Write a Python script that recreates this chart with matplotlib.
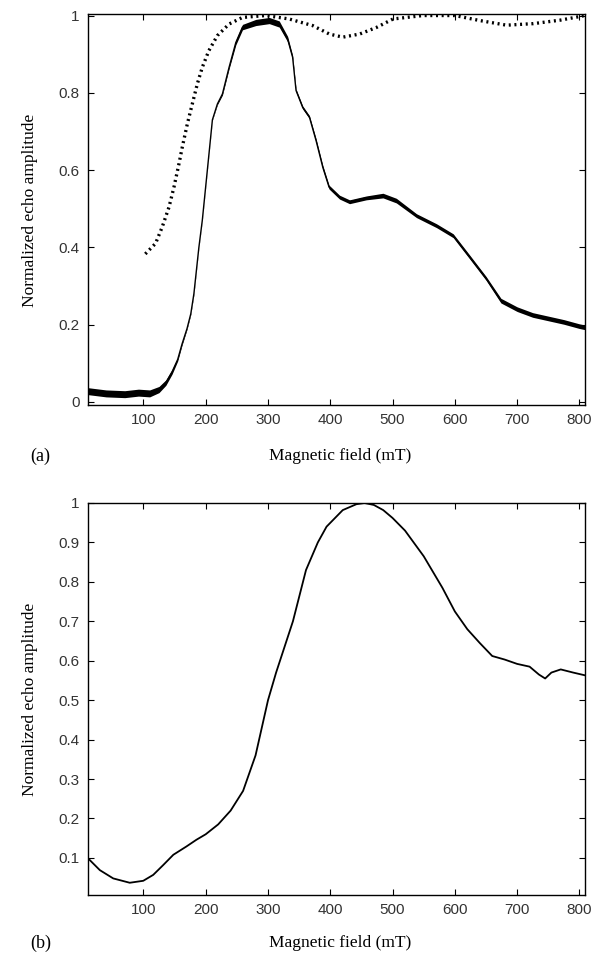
import numpy as np
import matplotlib
matplotlib.use("Agg")
import matplotlib.pyplot as plt

# panel (a): solid trace (noisy) and dotted trace
field_a = [10, 40, 70, 92, 110, 125, 136, 146, 155, 162, 170, 176, 181, 189, 194.5,
           202.6, 210.7, 218.7, 226.8, 237.5, 248.3, 259, 280.5, 302, 318, 331.5,
           339.5, 345, 355.7, 366.5, 377.2, 388, 398, 414.8, 430.9, 457.8, 484.6,
           506, 538.4, 570.6, 597.4, 624.3, 650, 674, 700, 725, 750, 775, 800, 809]
echo_a = [0.028, 0.022, 0.02, 0.024, 0.022, 0.032, 0.05, 0.078, 0.11, 0.15, 0.19, 0.228,
          0.28, 0.40, 0.47, 0.60, 0.73, 0.771, 0.797, 0.866, 0.93, 0.97, 0.982, 0.987,
          0.978, 0.939, 0.892, 0.806, 0.762, 0.737, 0.676, 0.607, 0.556, 0.53, 0.518,
          0.528, 0.534, 0.521, 0.482, 0.456, 0.43, 0.374, 0.32, 0.262, 0.24, 0.225,
          0.216, 0.207, 0.196, 0.193]
# half-width of the noise band around the solid trace
noise_a = [0.009, 0.009, 0.009, 0.009, 0.009, 0.008, 0.007, 0.006, 0.004, 0.003, 0.002,
           0.002, 0.002, 0.001, 0.001, 0.001, 0.001, 0.002, 0.003, 0.004, 0.006, 0.007,
           0.008, 0.008, 0.008, 0.007, 0.005, 0.004, 0.004, 0.004, 0.005, 0.005, 0.005,
           0.005, 0.005, 0.005, 0.006, 0.006, 0.005, 0.005, 0.005, 0.005, 0.005, 0.006,
           0.006, 0.006, 0.006, 0.006, 0.006, 0.006]

field_dot = [103, 119.4, 130, 141, 149, 157, 162.3, 170.4, 178.4, 186.5, 194.5, 205,
             218.7, 237.5, 259, 296.7, 334, 371.6, 398.6, 420, 447, 474, 500.7, 549,
             600, 640, 683, 726, 769, 796, 808]
echo_dot = [0.383, 0.41, 0.452, 0.504, 0.556, 0.616, 0.659, 0.719, 0.771, 0.823, 0.866,
            0.909, 0.948, 0.978, 0.995, 1.0, 0.991, 0.974, 0.952, 0.944, 0.952, 0.969,
            0.991, 1.0, 1.0, 0.987, 0.975, 0.979, 0.988, 0.996, 1.0]

# panel (b)
field_b = [11, 30, 51.5, 78, 99.7, 115.7, 131.8, 148, 169, 185, 200, 220, 240, 260, 280,
           300, 313, 340, 361, 380, 394, 420, 442, 455, 470, 485, 500, 520, 550, 580,
           600, 620, 640, 660, 680, 700, 720, 735, 745, 755, 770, 790, 809]
echo_b = [0.099, 0.069, 0.048, 0.037, 0.042, 0.057, 0.082, 0.108, 0.129, 0.146, 0.16,
          0.185, 0.22, 0.27, 0.36, 0.50, 0.57, 0.70, 0.83, 0.90, 0.94, 0.982, 0.997, 1.0,
          0.995, 0.982, 0.962, 0.93, 0.865, 0.785, 0.725, 0.68, 0.645, 0.612, 0.603,
          0.592, 0.585, 0.565, 0.555, 0.57, 0.578, 0.57, 0.563]

xticks = [100, 200, 300, 400, 500, 600, 700, 800]

fig = plt.figure(figsize=(6.02, 9.57), dpi=100)
ax1 = fig.add_axes([0.1462, 0.5768, 0.8256, 0.4086])
ax2 = fig.add_axes([0.1462, 0.0648, 0.8256, 0.4096])

xa = np.array(field_a)
ya = np.array(echo_a)
na = np.array(noise_a)
ax1.fill_between(xa, ya - na, ya + na, color="black", lw=0)
ax1.plot(xa, ya, color="black", lw=1.0)
ax1.plot(field_dot, echo_dot, color="black", lw=2.4, linestyle=(0, (0.6, 1.1)))
ax1.set_xlim(11, 809)
ax1.set_ylim(-0.008, 1.004)
ax1.set_yticks([0, 0.2, 0.4, 0.6, 0.8, 1])
ax1.set_yticklabels(["0", "0.2", "0.4", "0.6", "0.8", "1"])

ax2.plot(field_b, echo_b, color="black", lw=1.3)
ax2.set_xlim(11, 809)
ax2.set_ylim(0.006, 1.0)
yt = [0.1, 0.2, 0.3, 0.4, 0.5, 0.6, 0.7, 0.8, 0.9, 1]
ax2.set_yticks(yt)
ax2.set_yticklabels(["0.1", "0.2", "0.3", "0.4", "0.5", "0.6", "0.7", "0.8", "0.9", "1"])

for ax in (ax1, ax2):
    ax.set_xticks(xticks)
    ax.set_xticklabels([str(t) for t in xticks])
    ax.tick_params(direction="in", top=True, right=True, length=4, width=0.8,
                   labelsize=11, labelcolor="#333333", pad=6)
    for lab in ax.get_xticklabels() + ax.get_yticklabels():
        lab.set_family("Liberation Sans")
    for s in ax.spines.values():
        s.set_linewidth(1.0)

serif = "Liberation Serif"
fig.text(30 / 602, 1 - 456 / 957, "(a)", fontsize=13, family=serif, ha="left", va="center")
fig.text(340 / 602, 1 - 456 / 957, "Magnetic field (mT)", fontsize=12.5, family=serif,
         ha="center", va="center")
fig.text(30 / 602, 1 - 943 / 957, "(b)", fontsize=13, family=serif, ha="left", va="center")
fig.text(340 / 602, 1 - 943 / 957, "Magnetic field (mT)", fontsize=12.5, family=serif,
         ha="center", va="center")
fig.text(30 / 602, 1 - 210 / 957, "Normalized echo amplitude", fontsize=12.5, family=serif,
         rotation=90, ha="center", va="center")
fig.text(30 / 602, 1 - 699 / 957, "Normalized echo amplitude", fontsize=12.5, family=serif,
         rotation=90, ha="center", va="center")

fig.savefig("out.png", dpi=100)
